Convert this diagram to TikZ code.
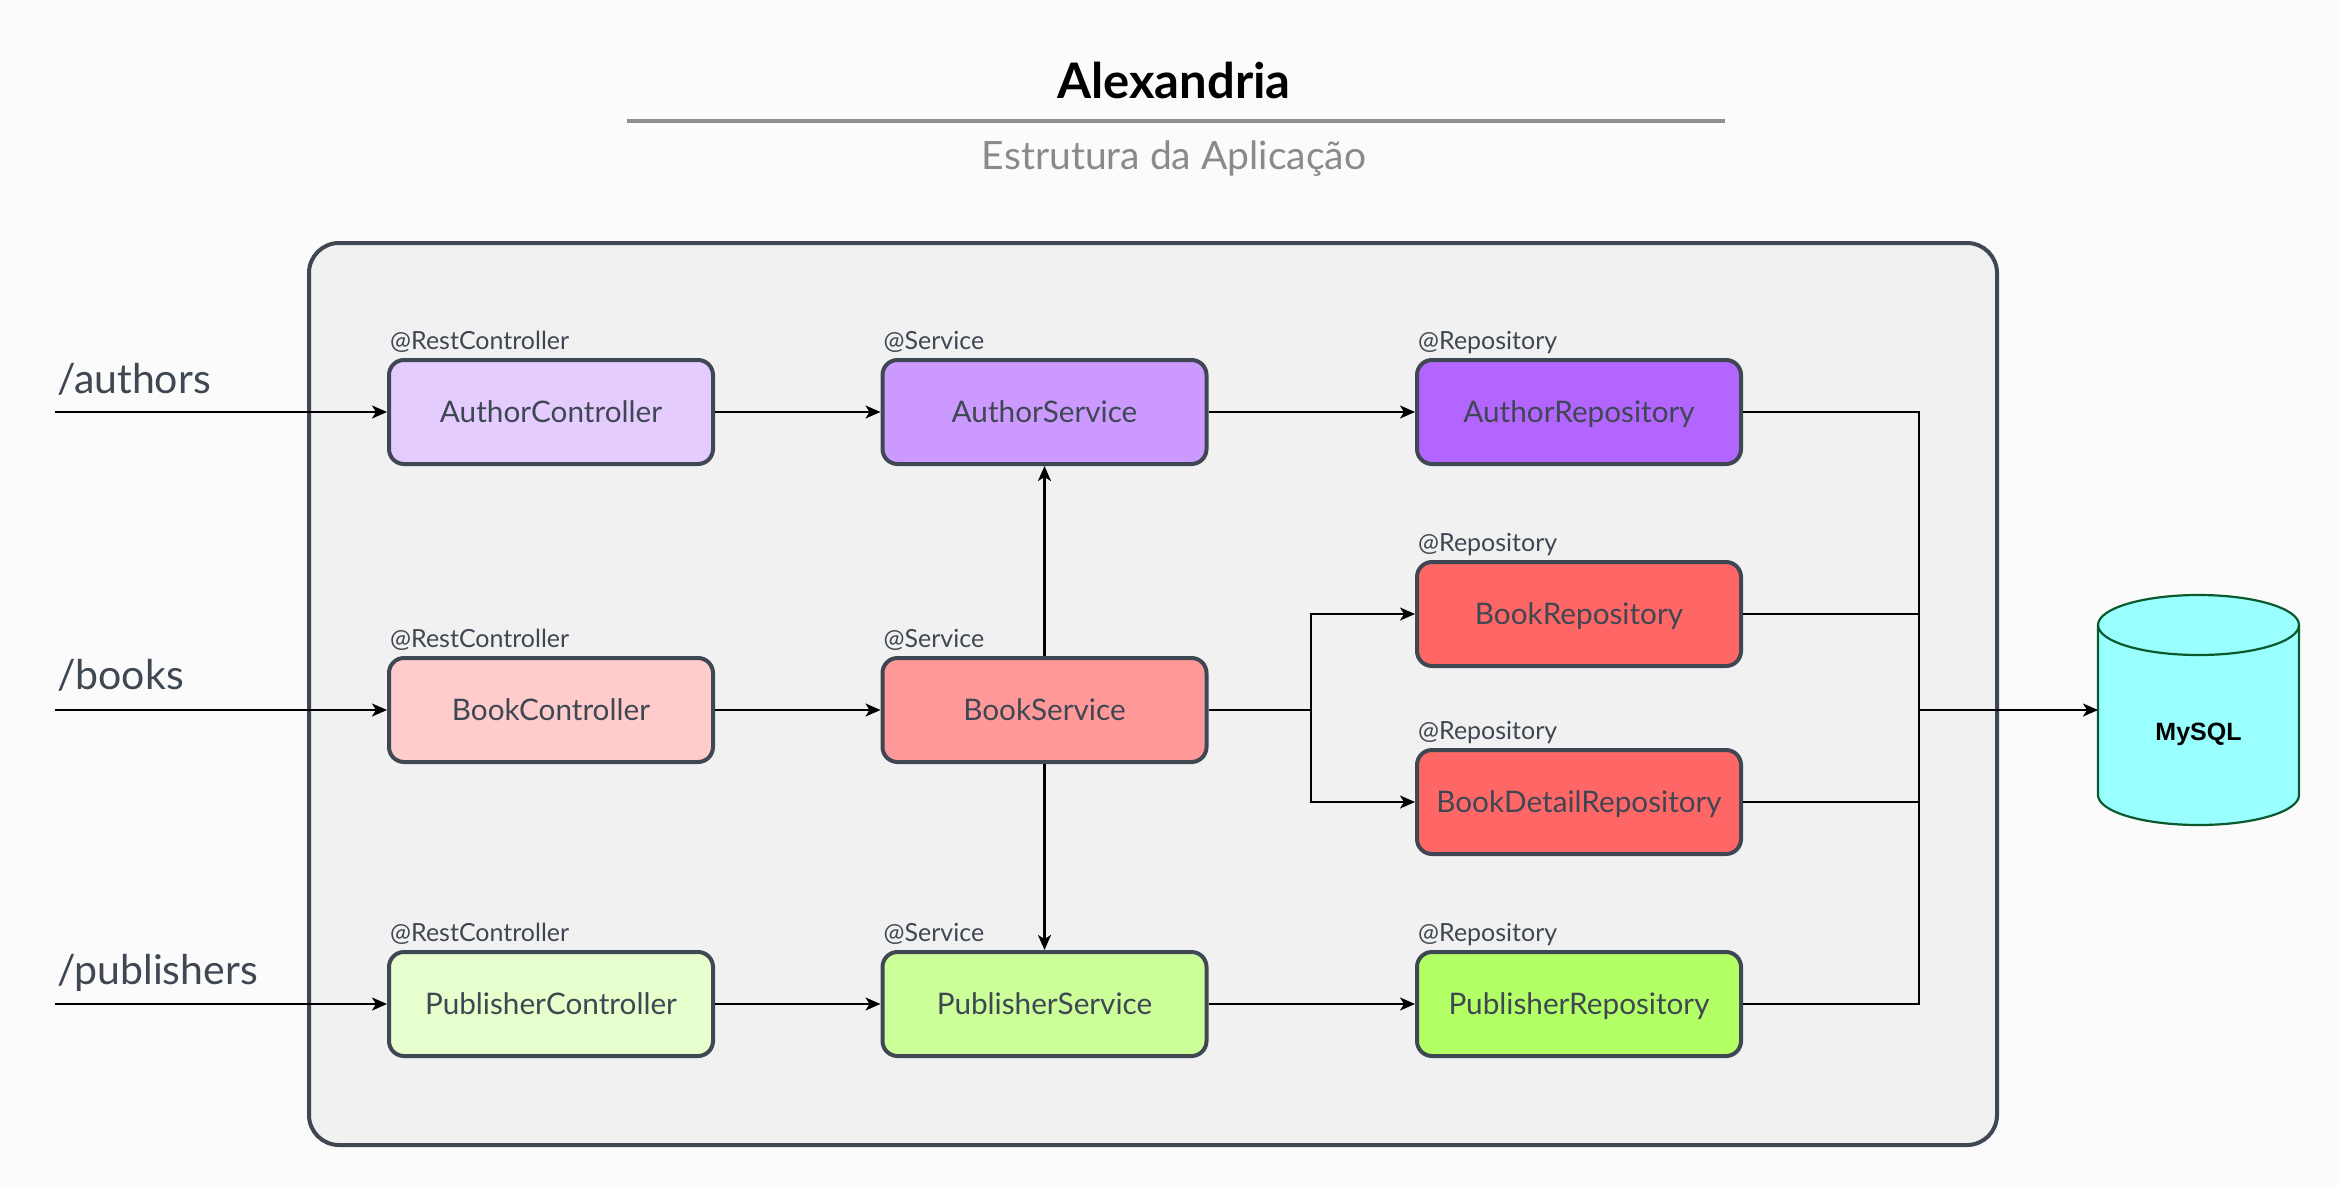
\documentclass[tikz,border=0pt]{standalone}
\usepackage{fontspec}
\setmainfont{Lato}
\newfontfamily\dbfont{Liberation Sans}
\usetikzlibrary{arrows.meta,calc}
\definecolor{ink}{HTML}{3F4753}
\definecolor{bg}{HTML}{FBFBFB}
\definecolor{appfill}{HTML}{F1F1F1}
\definecolor{rulegray}{HTML}{8F8F8F}
\definecolor{subgray}{HTML}{8A8A8A}
\definecolor{acol}{HTML}{E5CCFF}
\definecolor{ascol}{HTML}{CC99FF}
\definecolor{arcol}{HTML}{B266FF}
\definecolor{bccol}{HTML}{FFCCCC}
\definecolor{bscol}{HTML}{FF9999}
\definecolor{brcol}{HTML}{FF6666}
\definecolor{pccol}{HTML}{E6FFCC}
\definecolor{pscol}{HTML}{CCFF99}
\definecolor{prcol}{HTML}{B3FF66}
\definecolor{dbfill}{HTML}{99FFFF}
\definecolor{dbdraw}{HTML}{0B5A2E}
\tikzset{
  compbox/.style={draw=ink, line width=4, rounded corners=15, minimum width=324,
    minimum height=104, inner sep=0, text height=26, text depth=6, text=ink,
    font=\fontsize{29.7}{35}\selectfont},
  ann/.style={anchor=base west, inner sep=0, text=ink, font=\fontsize{25}{30}\selectfont},
  route/.style={anchor=base west, inner sep=0, text=ink, font=\fontsize{41}{48}\selectfont},
  arr/.style={-{Stealth[length=15, width=13, inset=4]}, line width=2.2, black},
  conn/.style={line width=2.2, black},
}
\begin{document}
\begin{tikzpicture}[x=1pt,y=-1pt]
\fill[bg] (0,0) rectangle (2340,1186);
\useasboundingbox (0,0) rectangle (2340,1186);

% title block
\node[anchor=base, inner sep=0, font=\fontsize{49}{58}\selectfont\bfseries] (title) at (1174,98) {Alexandria};
\coordinate (rl) at (627,121);
\coordinate (rr) at (1725,121);
\draw[line width=3.5, rulegray] (rl) -- (rr);
\node[anchor=base, inner sep=0, text=subgray, font=\fontsize{39}{46}\selectfont] (sub) at (1174,169) {Estrutura da Aplicação};

% application frame
\node[draw=ink, fill=appfill, line width=4, rounded corners=30, minimum width=1688,
  minimum height=902, inner sep=0] (app) at (1153,694) {};

% components
\node[compbox, fill=acol] (ac) at (551,412) {AuthorController};
\node[compbox, fill=ascol] (as) at (1044.5,412) {AuthorService};
\node[compbox, fill=arcol] (ar) at (1579,412) {AuthorRepository};
\node[compbox, fill=bccol] (bc) at (551,710) {BookController};
\node[compbox, fill=bscol] (bs) at (1044.5,710) {BookService};
\node[compbox, fill=brcol] (brp) at (1579,614) {BookRepository};
\node[compbox, fill=brcol] (bdr) at (1579,802) {BookDetailRepository};
\node[compbox, fill=pccol] (pc) at (551,1004) {PublisherController};
\node[compbox, fill=pscol] (ps) at (1044.5,1004) {PublisherService};
\node[compbox, fill=prcol] (pr) at (1579,1004) {PublisherRepository};

% annotations
\node[ann] (acl) at ($(ac.north west)+(3,-9)$) {@RestController};
\node[ann] (asl) at ($(as.north west)+(3,-9)$) {@Service};
\node[ann] (arl) at ($(ar.north west)+(3,-9)$) {@Repository};
\node[ann] (bcl) at ($(bc.north west)+(3,-9)$) {@RestController};
\node[ann] (bsl) at ($(bs.north west)+(3,-9)$) {@Service};
\node[ann] (brl) at ($(brp.north west)+(3,-9)$) {@Repository};
\node[ann] (bdl) at ($(bdr.north west)+(3,-9)$) {@Repository};
\node[ann] (pcl) at ($(pc.north west)+(3,-9)$) {@RestController};
\node[ann] (psl) at ($(ps.north west)+(3,-9)$) {@Service};
\node[ann] (prl) at ($(pr.north west)+(3,-9)$) {@Repository};

% routes
\node[route] (ra) at (57,393) {/authors};
\node[route] (rb) at (57,689) {/books};
\node[route] (rp) at (57,984) {/publishers};
\coordinate (ra0) at (55,412);
\coordinate (rb0) at (55,710);
\coordinate (rp0) at (55,1004);
\draw[arr] (ra0) -- (ac);
\draw[arr] (rb0) -- (bc);
\draw[arr] (rp0) -- (pc);

% flow
\draw[arr] (ac) -- (as);
\draw[arr] (as) -- (ar);
\draw[arr] (bc) -- (bs);
\draw[arr] (pc) -- (ps);
\draw[arr] (ps) -- (pr);
\draw[arr] (bs) -- (as);
\draw[arr] (bs) -- (ps);
\coordinate (br) at (1311,710);
\draw[conn] (bs.east) -- (br);
\draw[arr] (br) |- (brp.west);
\draw[arr] (br) |- (bdr.west);

% database
\fill[dbfill] (2098,625) -- (2098,795) arc[start angle=180, end angle=0, x radius=100.5, y radius=30]
  -- (2299,625) arc[start angle=0, end angle=-180, x radius=100.5, y radius=30] -- cycle;
\draw[dbdraw, line width=2.2] (2098,625) -- (2098,795) arc[start angle=180, end angle=0, x radius=100.5, y radius=30] -- (2299,625);
\draw[dbdraw, line width=2.2] (2198.5,625) ellipse [x radius=100.5, y radius=30];
\node[inner sep=0, font=\dbfont\bfseries\fontsize{25}{30}\selectfont] (db) at (2198.5,734) {MySQL};
\coordinate (dbin) at (2098,710);
\coordinate (bus) at (1919,710);
\draw[conn] (ar.east) -- (ar.east -| bus) -- (bus);
\draw[conn] (brp.east) -- (brp.east -| bus) -- (bus);
\draw[conn] (bdr.east) -- (bdr.east -| bus) -- (bus);
\draw[conn] (pr.east) -- (pr.east -| bus) -- (bus);
\draw[arr] (bus) -- (dbin);
\end{tikzpicture}
\end{document}
